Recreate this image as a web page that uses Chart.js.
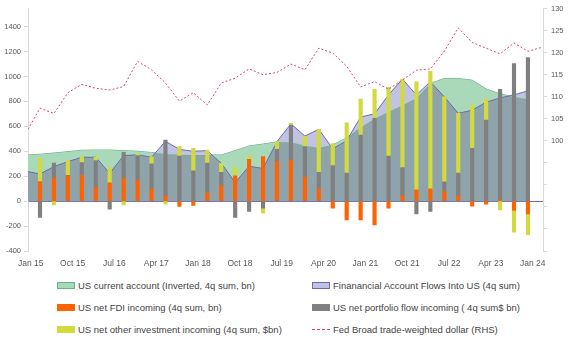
<!DOCTYPE html>
<html>
<head>
<meta charset="utf-8">
<script src="https://cdn.jsdelivr.net/npm/chart.js@4.4.1/dist/chart.umd.min.js"></script>
<style>
    body { margin: 0; background: #fff; font-family: "Liberation Sans", Arial, sans-serif; }
    #wrap { position: relative; width: 568px; height: 340px; }
    #box { position: absolute; left: 0; top: 0; width: 568px; height: 275px; }
    .leg { position: absolute; height: 12px; font-size: 9.5px; color: #444; display: flex; align-items: center; white-space: nowrap; }
    .sw { width: 18px; height: 7px; box-sizing: border-box; margin-right: 3px; }
    .dash { width: 18px; height: 0; border-top: 1px dashed #d9418f; margin-right: 3px; }
</style>
</head>
<body>
<div id="wrap">
    <div id="box"><canvas id="flows-graph"></canvas></div>
    <div class="leg" style="left:57px;top:279px"><span class="sw" style="background:#a9d9b8;border:1px solid #62b684"></span>US current account (Inverted, 4q sum, bn)</div>
    <div class="leg" style="left:312px;top:279px"><span class="sw" style="background:#c2c2e2;border:1px solid #6b6db0"></span>Finanancial Account Flows Into US (4q sum)</div>
    <div class="leg" style="left:57px;top:301px"><span class="sw" style="background:#ff6200"></span>US net FDI incoming (4q sum, bn)</div>
    <div class="leg" style="left:312px;top:301px"><span class="sw" style="background:#808080"></span>US net portfolio flow incoming ( 4q sum$ bn)</div>
    <div class="leg" style="left:57px;top:323px"><span class="sw" style="background:#d2db3d"></span>US net other investment incoming (4q sum, $bn)</div>
    <div class="leg" style="left:312px;top:323px"><span class="dash"></span>Fed Broad trade-weighted dollar (RHS)</div>
</div>
<script>
// quarters, Q4 14 .. Q1 24 (position in this list is the x value)
const quarters = [
    "Q4 14",
    "Q1 15", "Q2 15", "Q3 15", "Q4 15", "Q1 16", "Q2 16", "Q3 16", "Q4 16",
    "Q1 17", "Q2 17", "Q3 17", "Q4 17", "Q1 18", "Q2 18", "Q3 18", "Q4 18",
    "Q1 19", "Q2 19", "Q3 19", "Q4 19", "Q1 20", "Q2 20", "Q3 20", "Q4 20",
    "Q1 21", "Q2 21", "Q3 21", "Q4 21", "Q1 22", "Q2 22", "Q3 22", "Q4 22",
    "Q1 23", "Q2 23", "Q3 23", "Q4 23",
    "Q1 24",
];
const tickLabels = ["Jan 15", "Oct 15", "Jul 16", "Apr 17", "Jan 18", "Oct 18", "Jul 19", "Apr 20", "Jan 21", "Oct 21", "Jul 22", "Apr 23", "Jan 24"];

// bars, Q1 15 .. Q4 23
const fdi = [157, 184, 202, 207, 108, 147, 184, 168, 97, 40, -43, -35, 66, 122, 202, 336, 357, 317, 330, 192, 98, -56, -150, -150, -190, -56, 42, 90, 98, 77, 43, -40, -24, 10, -75, -103];
const portfolio = [-131, 122, 5, 102, 217, -64, 207, 197, 203, 450, 362, 243, 240, 108, -130, -83, -56, 99, 280, 245, 133, 285, 224, 530, 664, 362, 227, -102, -83, 77, 181, 424, 650, 886, 1104, 1152];
const otherInvestment = [187, -30, 118, 48, 27, 123, -30, 15, 55, -25, 75, 180, 104, 74, 70, 26, -40, 61, 14, 83, 345, 176, 405, 288, 232, 550, 709, 867, 944, 683, 480, 346, 168, -70, -173, -167];

// areas, Q4 14 .. Q4 23
const currentAccount = [369, 376, 386, 397, 408, 410, 410, 405, 400, 390, 378, 372, 370, 370, 370, 405, 442, 458, 474, 472, 445, 429, 450, 508, 590, 660, 715, 770, 825, 944, 984, 984, 970, 900, 860, 835, 818];
const financialAccount = [240, 218, 277, 317, 352, 352, 224, 365, 372, 352, 480, 415, 400, 405, 304, 150, 280, 262, 477, 620, 522, 576, 420, 485, 675, 700, 852, 978, 852, 958, 837, 704, 730, 793, 828, 852, 885];

// RHS, Q4 14 .. Q1 24
const dollar = [101.8, 107.4, 106.2, 110.9, 112.8, 111.9, 111.5, 112.3, 118.0, 116.1, 113.1, 109.0, 110.9, 108.1, 113.1, 114.2, 116.3, 115.0, 115.5, 117.4, 116.1, 121.0, 119.9, 116.9, 112.2, 113.4, 111.7, 113.8, 116.0, 116.3, 120.3, 125.6, 122.3, 121.0, 119.7, 122.2, 120.3, 121.2];

const GREEN = "#a9d9b8";
const LAVENDER = "#c2c2e2";
const OVERLAP = "#8fa3ab";
const AXIS = "#d9d9d9";

const X_MIN = 0.14;
const X_MAX = 37.08;
const FIRST_TICK = 0.34;

const toPoints = (values, start) => values.map((v, i) => ({ x: start + i, y: v }));

Chart.defaults.font.family = '"Liberation Sans", Arial, sans-serif';
Chart.defaults.color = "#595959";

new Chart(document.getElementById("flows-graph"), {
    data: {
        datasets: [
            {
                type: "bar",
                label: "US net FDI incoming (4q sum, bn)",
                data: toPoints(fdi, 1),
                backgroundColor: "#ff6200",
                barThickness: 3.5,
                stack: "flows",
                order: 3,
            },
            {
                type: "bar",
                label: "US net portfolio flow incoming ( 4q sum$ bn)",
                data: toPoints(portfolio, 1),
                backgroundColor: "#808080",
                barThickness: 3.5,
                stack: "flows",
                order: 3,
            },
            {
                type: "bar",
                label: "US net other investment incoming (4q sum, $bn)",
                data: toPoints(otherInvestment, 1),
                backgroundColor: "#d2db3d",
                barThickness: 3.5,
                stack: "flows",
                order: 3,
            },
            {
                type: "line",
                label: "Finanancial Account Flows Into US (4q sum)",
                data: toPoints(financialAccount, 0),
                borderColor: "#6b6db0",
                borderWidth: 1,
                pointRadius: 0,
                fill: { target: 4, above: LAVENDER, below: GREEN },
                stack: "fa",
                order: 4,
            },
            {
                type: "line",
                label: "US current account (Inverted, 4q sum, bn)",
                data: toPoints(currentAccount, 0),
                borderColor: "#62b684",
                backgroundColor: OVERLAP,
                borderWidth: 1,
                pointRadius: 0,
                fill: "origin",
                stack: "ca",
                order: 5,
            },
            {
                type: "line",
                label: "Fed Broad trade-weighted dollar (RHS)",
                data: toPoints(dollar, 0),
                yAxisID: "y1",
                borderColor: "#d9418f",
                borderWidth: 1,
                borderDash: [2, 2],
                pointRadius: 0,
                fill: false,
                order: 1,
            },
        ],
    },
    options: {
        responsive: true,
        maintainAspectRatio: false,
        animation: false,
        layout: { padding: { top: 8.5, left: 0, right: 0, bottom: 0 } },
        plugins: {
            legend: { display: false },
            tooltip: {
                callbacks: {
                    title: (items) => quarters[items[0].parsed.x],
                },
            },
        },
        scales: {
            x: {
                type: "linear",
                min: X_MIN,
                max: X_MAX,
                offset: false,
                stacked: true,
                grid: { display: false, drawTicks: false, offset: false },
                border: { display: false },
                afterBuildTicks: (axis) => {
                    axis.ticks = tickLabels.map((t, k) => ({ value: FIRST_TICK + 3 * k }));
                },
                afterFit: (axis) => {
                    axis.height = 24;
                    axis.paddingLeft = 0;
                    axis.paddingRight = 0;
                },
                ticks: {
                    autoSkip: false,
                    maxRotation: 0,
                    padding: 8,
                    font: { size: 8.5 },
                    callback: (value, index) => tickLabels[index],
                },
            },
            y: {
                min: -400,
                max: 1545,
                stacked: true,
                border: { display: true, color: AXIS },
                grid: {
                    color: (ctx) => (ctx.tick && ctx.tick.value === 0 ? "#6b6db0" : "rgba(0,0,0,0)"),
                    tickColor: AXIS,
                    tickLength: 4,
                },
                afterFit: (axis) => {
                    axis.width = 28;
                    axis.paddingTop = 0;
                    axis.paddingBottom = 0;
                },
                ticks: {
                    stepSize: 200,
                    includeBounds: false,
                    padding: 3,
                    font: { size: 7.5 },
                    callback: (value) => value,
                },
            },
            y1: {
                position: "right",
                min: 75,
                max: 130,
                border: { display: true, color: AXIS },
                grid: { drawOnChartArea: false, tickColor: AXIS, tickLength: 4 },
                afterFit: (axis) => {
                    axis.width = 25;
                    axis.paddingTop = 0;
                    axis.paddingBottom = 0;
                },
                ticks: {
                    stepSize: 5,
                    padding: 4,
                    font: { size: 7.5 },
                    callback: (value) => (value >= 100 ? value : ""),
                },
            },
        },
    },
});
</script>
</body>
</html>
